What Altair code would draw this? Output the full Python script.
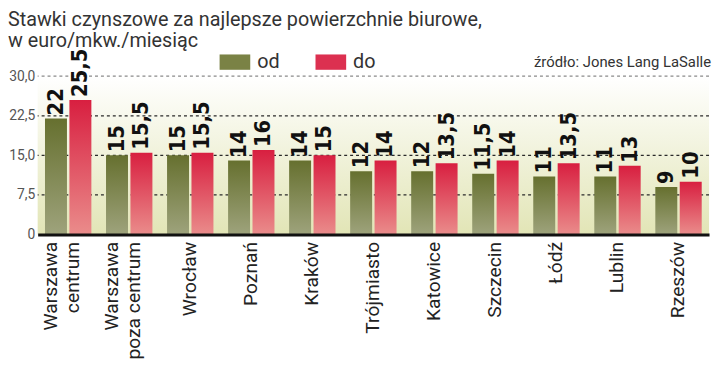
import altair as alt
import pandas as pd

cities = ["Warszawa\ncentrum", "Warszawa\npoza centrum", "Wrocław", "Poznań", "Kraków",
          "Trójmiasto", "Katowice", "Szczecin", "Łódź", "Lublin", "Rzeszów"]
od_values = [22, 15, 15, 14, 14, 12, 12, 11.5, 11, 11, 9]
do_values = [25.5, 15.5, 15.5, 16, 15, 14, 13.5, 14, 13.5, 13, 10]
series = ["od", "do"]
y_ticks = [0, 7.5, 15, 22.5, 30]
grid_values = [7.5, 15, 22.5, 30]
title_lines = ["Stawki czynszowe za najlepsze powierzchnie biurowe,", "w euro/mkw./miesiąc"]
source_text = "źródło: Jones Lang LaSalle"

W, H = 679, 160
PL = 30

rows = []
for c, a, b in zip(cities, od_values, do_values):
    rows.append({"city": c, "series": "od", "value": a})
    rows.append({"city": c, "series": "do", "value": b})
df = pd.DataFrame(rows)
df["label"] = df["value"].map(lambda v: (f"{v:g}").replace(".", ","))

x_enc = alt.X("city:N", sort=cities, scale=alt.Scale(paddingInner=0, paddingOuter=0),
              axis=alt.Axis(title=None, labelAngle=270, labelAlign="right", labelBaseline="middle",
                            labelExpr="split(datum.label, '\\n')", labelFont="Roboto",
                            labelFontSize=19.5, labelColor="#222", labelPadding=7, labelLineHeight=22,
                            labelOffset={"condition": {"test": "indexof(datum.value, '\\n') >= 0",
                                                       "value": -17}, "value": 0},
                            labelOverlap=False,
                            ticks=False, domainColor="#111", domainWidth=3, zindex=1))
xo_enc = alt.XOffset("series:N", scale=alt.Scale(domain=series, paddingInner=0.1, paddingOuter=0.3))
y_scale = alt.Scale(domain=[0, 30], nice=False)
y_axis = alt.Axis(title=None, values=y_ticks, grid=False, ticks=False, domain=False,
                  labelOverlap=False,
                  labelExpr="datum.value == 0 ? '0' : replace(format(datum.value, '.1f'), '.', ',')",
                  labelFont="Roboto", labelFontSize=14, labelColor="#555", labelPadding=3)
y_enc = alt.Y("value:Q", scale=y_scale, axis=y_axis)

bg = alt.Chart(pd.DataFrame({"a": [0]})).mark_rect(
    fill=alt.Gradient(gradient="linear", x1=0, x2=0, y1=0, y2=1,
                      stops=[alt.GradientStop(color="#ffffff", offset=0),
                             alt.GradientStop(color="#e2e5b6", offset=1)])
).encode(x=alt.value(0), x2=alt.value(W), y=alt.value(0), y2=alt.value(H))

grid = alt.Chart(pd.DataFrame({"g": grid_values})).mark_rule(strokeDash=[3, 3], strokeWidth=1.3).encode(
    y=alt.Y("g:Q", scale=y_scale, axis=y_axis),
    color=alt.condition("datum.g == 30", alt.value("#8a8a8a"), alt.value("#2a2a2a")),
)

green = alt.Chart(df).transform_filter("datum.series == 'od'").mark_bar(
    fill=alt.Gradient(gradient="linear", x1=0, x2=0, y1=0, y2=1,
                      stops=[alt.GradientStop(color="#66702f", offset=0),
                             alt.GradientStop(color="#9ea37c", offset=1)])
).encode(x=x_enc, xOffset=xo_enc, y=y_enc)

red = alt.Chart(df).transform_filter("datum.series == 'do'").mark_bar(
    fill=alt.Gradient(gradient="linear", x1=0, x2=0, y1=0, y2=1,
                      stops=[alt.GradientStop(color="#d81f40", offset=0),
                             alt.GradientStop(color="#ea8c8b", offset=1)])
).encode(x=x_enc, xOffset=xo_enc, y=y_enc)

labels = alt.Chart(df).mark_text(angle=270, align="left", baseline="middle", dx=3,
                                 font="DejaVu Sans Condensed", fontWeight="bold", fontSize=22,
                                 color="#111").encode(
    x=x_enc, xOffset=xo_enc, y=y_enc, text="label:N")

legend_layer = alt.Chart(df).mark_square(opacity=0).encode(
    x=x_enc, y=y_enc,
    color=alt.Color("series:N", scale=alt.Scale(domain=series, range=["#7a8245", "#dc3050"]),
                    legend=alt.Legend(title=None, orient="none", legendX=184, legendY=-30,
                                      direction="horizontal",
                                      symbolType="M-1,-0.5L1,-0.5L1,0.5L-1,0.5Z", symbolSize=961,
                                      symbolOpacity=1, symbolStrokeWidth=0, labelFont="Roboto",
                                      labelFontSize=20, labelColor="#333", labelOffset=7,
                                      columnPadding=36)))

title = alt.Chart(pd.DataFrame({"a": [0]})).mark_text(
    text=title_lines, align="left", baseline="top", font="Roboto", fontSize=20, lineHeight=21,
    color="#333").encode(x=alt.value(-PL), y=alt.value(-67))

source = alt.Chart(pd.DataFrame({"a": [0]})).mark_text(
    text=source_text, align="right", baseline="alphabetic", font="Roboto", fontSize=15,
    color="#333").encode(x=alt.value(W + 2), y=alt.value(-9))

chart = alt.layer(bg, grid, green, red, labels, legend_layer, title, source).properties(
    width=W, height=H,
    autosize=alt.AutoSizeParams(type="none"),
    padding={"left": PL, "top": 67, "right": 3, "bottom": 124},
).configure_view(stroke=None)

chart.save("out.html", embed_options={"renderer": "svg", "actions": False})
